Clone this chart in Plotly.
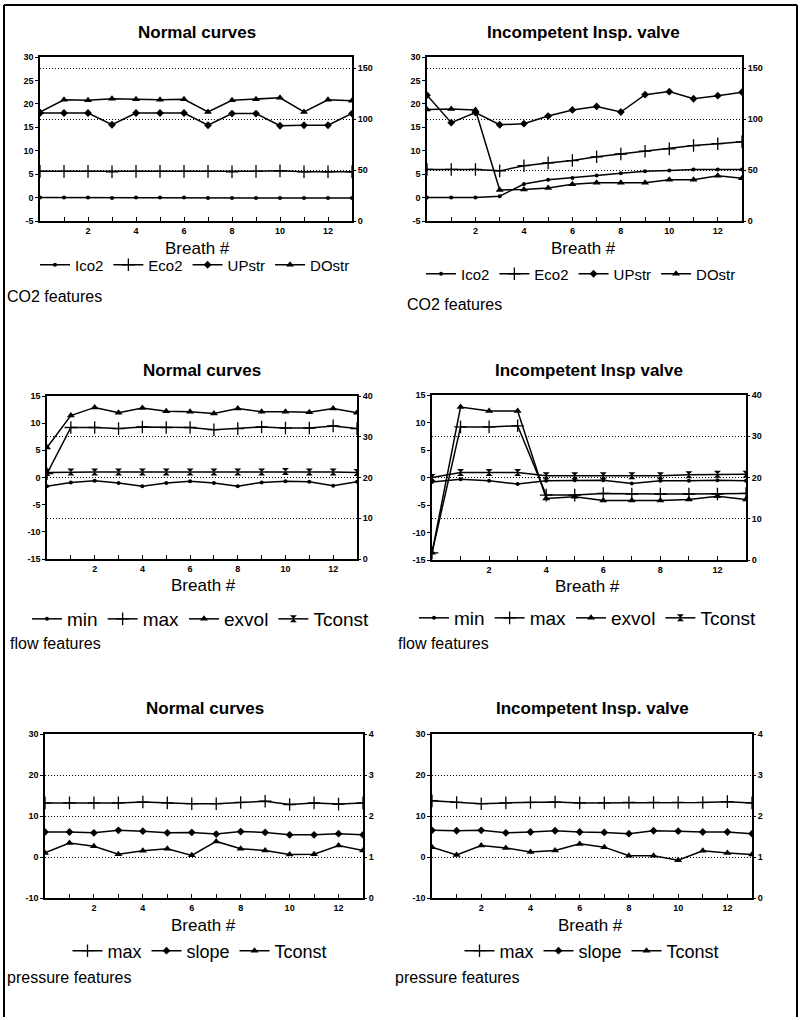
import plotly.graph_objects as go

W, H = 803, 1020

# ---------------- data ----------------
breaths = list(range(14))
breaths_short = list(range(12))

x_ticktext = ["", "", "2", "", "4", "", "6", "", "8", "", "10", "", "12", ""]
x_ticktext_short = ["", "", "2", "", "4", "", "6", "", "8", "", "12", ""]

co2_left_ticks = [-5, 0, 5, 10, 15, 20, 25, 30]
co2_right_ticks = [0, 50, 100, 150]
flow_left_ticks = [-15, -10, -5, 0, 5, 10, 15]
flow_right_ticks = [0, 10, 20, 30, 40]
pres_left_ticks = [-10, 0, 10, 20, 30]
pres_right_ticks = [0, 1, 2, 3, 4]

# CO2 features - normal curves
co2n_ico2 = [0.0, 0.0, 0.0, -0.1, 0.0, 0.0, 0.0, -0.1, -0.1, -0.1, -0.1, -0.1, -0.1, -0.1]
co2n_eco2 = [5.6, 5.6, 5.6, 5.5, 5.6, 5.6, 5.6, 5.6, 5.5, 5.6, 5.7, 5.5, 5.5, 5.5]
co2n_upstr = [106, 106, 106, 94.5, 106, 106, 106, 94, 105.5, 105.5, 93.5, 94, 94, 105.5]
co2n_dostr = [107, 119, 118.5, 120, 119.5, 119, 119.5, 107, 118.5, 119.5, 121, 107, 119, 118]

# CO2 features - incompetent insp. valve
co2i_ico2 = [0.0, 0.0, 0.0, 0.3, 2.9, 3.8, 4.2, 4.7, 5.2, 5.6, 5.8, 6.0, 6.0, 6.0]
co2i_eco2 = [6.0, 6.0, 6.0, 5.7, 6.8, 7.4, 7.9, 8.7, 9.3, 9.9, 10.4, 11.1, 11.5, 11.9]
co2i_upstr = [123.5, 96.5, 106.5, 94.5, 95.5, 103, 109, 112.5, 107, 124, 127, 120, 123, 126.5]
co2i_dostr = [109.5, 110, 109, 30.5, 31, 32.5, 36, 37.5, 37.5, 37.5, 40.5, 40.5, 44.5, 42]

# flow features - normal curves
flown_min = [-1.6, -0.9, -0.6, -1.0, -1.6, -1.0, -0.7, -1.0, -1.6, -0.9, -0.7, -0.8, -1.5, -0.8]
flown_max = [0.7, 9.2, 9.2, 9.0, 9.3, 9.2, 9.2, 8.8, 9.0, 9.3, 9.1, 9.1, 9.5, 9.0]
flown_exvol = [5.5, 11.4, 12.9, 11.9, 12.8, 12.2, 12.1, 11.8, 12.7, 12.1, 12.1, 12.0, 12.7, 11.9]
flown_tconst = [0.9, 1.0, 1.0, 1.0, 1.0, 1.0, 1.0, 1.0, 1.0, 1.0, 1.1, 1.0, 1.0, 0.9]

# flow features - incompetent insp valve
flowi_min = [-0.8, -0.3, -0.6, -1.2, -0.6, -0.5, -0.5, -1.1, -0.6, -0.6, -0.5, -0.6]
flowi_max = [-13.7, 9.2, 9.2, 9.4, -3.2, -3.2, -2.9, -3.0, -3.0, -3.0, -3.0, -2.9]
flowi_exvol = [-13.7, 12.8, 12.1, 12.1, -3.8, -3.5, -4.2, -4.2, -4.2, -4.0, -3.4, -4.0]
flowi_tconst = [0.0, 0.9, 0.9, 0.9, 0.3, 0.3, 0.3, 0.3, 0.3, 0.5, 0.6, 0.6]

# pressure features - normal curves
presn_max = [13.2, 13.2, 13.2, 13.2, 13.4, 13.2, 13.0, 13.0, 13.3, 13.6, 12.8, 13.2, 12.9, 13.2]
presn_slope = [6.1, 6.1, 5.9, 6.5, 6.3, 5.9, 6.0, 5.6, 6.2, 6.0, 5.4, 5.4, 5.7, 5.4]
presn_tconst = [1.0, 3.4, 2.6, 0.7, 1.5, 2.0, 0.4, 3.8, 2.0, 1.6, 0.6, 0.7, 2.8, 1.6]

# pressure features - incompetent insp. valve
presi_max = [13.7, 13.3, 13.0, 13.2, 13.3, 13.4, 13.2, 13.2, 13.3, 13.3, 13.3, 13.3, 13.5, 13.2]
presi_slope = [6.5, 6.4, 6.5, 5.9, 6.1, 6.4, 6.1, 6.0, 5.7, 6.4, 6.3, 6.1, 6.1, 5.7]
presi_tconst = [2.4, 0.5, 2.8, 2.2, 1.2, 1.6, 3.2, 2.4, 0.3, 0.3, -0.8, 1.5, 1.0, 0.6]

titles = ["Normal curves", "Incompetent Insp. valve",
          "Normal curves", "Incompetent Insp valve",
          "Normal curves", "Incompetent Insp. valve"]
feature_labels = ["CO2 features", "CO2 features", "flow features",
                  "flow features", "pressure features", "pressure features"]
x_title = "Breath #"

# ---------------- layout helpers ----------------
def fx(px):
    return px / W

def fy(py):
    return 1 - py / H

FONT = "Liberation Sans"
BLACK = "black"

# panel boxes (left, right, top, bottom) in px
boxes = [(40, 352, 57, 221), (427, 742, 57, 221),
         (47, 357, 396, 559), (432, 746, 395, 560),
         (45, 363, 734, 898), (432, 752, 734, 898)]
title_pos = [(197, 33), (583, 32), (202, 370), (589, 370), (205, 708), (592, 708)]
xtitle_pos = [(197, 248), (583, 248), (203, 585), (587, 586), (203, 925), (590, 925)]
legend_pos = [(195, 265, 15), (581, 274, 15), (201, 619, 19), (588, 618, 19),
              (200, 951, 18), (592, 951, 18)]
feature_pos = [(5, 296), (405, 304), (8, 643), (396, 643), (5, 977), (393, 977)]

ranges = [
    dict(x=[0, 13], xt=x_ticktext, yl=[-5, 30], ylt=co2_left_ticks, yr=[0, 161], yrt=co2_right_ticks),
    dict(x=[0, 13], xt=x_ticktext, yl=[-5, 30], ylt=co2_left_ticks, yr=[0, 161], yrt=co2_right_ticks),
    dict(x=[0, 13], xt=x_ticktext, yl=[-15, 15], ylt=flow_left_ticks, yr=[0, 40], yrt=flow_right_ticks),
    dict(x=[0, 11], xt=x_ticktext_short, yl=[-15, 15], ylt=flow_left_ticks, yr=[0, 40], yrt=flow_right_ticks),
    dict(x=[0, 13], xt=x_ticktext, yl=[-10, 30], ylt=pres_left_ticks, yr=[0, 4], yrt=pres_right_ticks),
    dict(x=[0, 13], xt=x_ticktext, yl=[-10, 30], ylt=pres_left_ticks, yr=[0, 4], yrt=pres_right_ticks),
]

M_DOT = dict(symbol="circle", size=4)
M_PLUS = dict(symbol="cross-thin", size=9, line=dict(width=1.3, color=BLACK))
M_DIAM = dict(symbol="diamond", size=6)
M_TRI = dict(symbol="triangle-up", size=7)
M_HOUR = dict(symbol="hourglass", size=7)

series = [
    [("Ico2", breaths, co2n_ico2, M_DOT, "L"), ("Eco2", breaths, co2n_eco2, M_PLUS, "L"),
     ("UPstr", breaths, co2n_upstr, M_DIAM, "R"), ("DOstr", breaths, co2n_dostr, M_TRI, "R")],
    [("Ico2", breaths, co2i_ico2, M_DOT, "L"), ("Eco2", breaths, co2i_eco2, M_PLUS, "L"),
     ("UPstr", breaths, co2i_upstr, M_DIAM, "R"), ("DOstr", breaths, co2i_dostr, M_TRI, "R")],
    [("min", breaths, flown_min, M_DOT, "L"), ("max", breaths, flown_max, M_PLUS, "L"),
     ("exvol", breaths, flown_exvol, M_TRI, "L"), ("Tconst", breaths, flown_tconst, M_HOUR, "L")],
    [("min", breaths_short, flowi_min, M_DOT, "L"), ("max", breaths_short, flowi_max, M_PLUS, "L"),
     ("exvol", breaths_short, flowi_exvol, M_TRI, "L"), ("Tconst", breaths_short, flowi_tconst, M_HOUR, "L")],
    [("max", breaths, presn_max, M_PLUS, "L"), ("slope", breaths, presn_slope, M_DIAM, "L"),
     ("Tconst", breaths, presn_tconst, M_TRI, "L")],
    [("max", breaths, presi_max, M_PLUS, "L"), ("slope", breaths, presi_slope, M_DIAM, "L"),
     ("Tconst", breaths, presi_tconst, M_TRI, "L")],
]

fig = go.Figure()
layout = dict(width=W, height=H, margin=dict(l=0, r=0, t=0, b=0), autosize=False,
              template="none", paper_bgcolor="white", plot_bgcolor="white",
              font=dict(family=FONT, color=BLACK), annotations=[], shapes=[])

tickfont = dict(family=FONT, size=9, color=BLACK, weight="bold")
GRID_DASH = "1px,2px"

for i in range(6):
    n = i + 1
    sfx = "" if n == 1 else str(n)
    rn = n + 6
    l, r, t, b = boxes[i]
    rg = ranges[i]
    xs = list(range(rg["x"][1] + 1))
    layout["xaxis" + sfx] = dict(
        domain=[fx(l), fx(r)], anchor="y" + sfx, range=rg["x"],
        tickmode="array", tickvals=xs, ticktext=rg["xt"],
        ticks="inside", ticklen=4, tickwidth=1, tickcolor=BLACK,
        showline=True, mirror=True, linecolor=BLACK, linewidth=1.5,
        showgrid=False, zeroline=False, tickfont=tickfont, fixedrange=True)
    layout["yaxis" + sfx] = dict(
        domain=[fy(b), fy(t)], anchor="x" + sfx, range=rg["yl"],
        tickmode="array", tickvals=rg["ylt"], ticktext=[str(v) for v in rg["ylt"]],
        ticks="outside", ticklen=3, tickwidth=1, tickcolor=BLACK,
        showline=True, mirror=True, linecolor=BLACK, linewidth=1.5,
        showgrid=False, zeroline=False, tickfont=tickfont, fixedrange=True)
    layout["yaxis" + str(rn)] = dict(
        domain=[fy(b), fy(t)], anchor="x" + sfx, overlaying="y" + sfx, side="right",
        range=rg["yr"], tickmode="array", tickvals=rg["yrt"],
        ticktext=[str(v) for v in rg["yrt"]],
        ticks="outside", ticklen=3, tickwidth=1, tickcolor=BLACK,
        showline=False, showgrid=True, griddash=GRID_DASH, gridcolor=BLACK, gridwidth=1,
        zeroline=False, tickfont=tickfont, fixedrange=True)

    lname = "legend" + sfx
    lx, ly, lsize = legend_pos[i]
    layout[lname] = dict(orientation="h", x=fx(lx), y=fy(ly), xanchor="center", yanchor="middle",
                         font=dict(family=FONT, size=lsize, color=BLACK),
                         bgcolor="rgba(0,0,0,0)", borderwidth=0, itemwidth=30,
                         tracegroupgap=0)

    has_right = False
    for name, xv, yv, mk, side in series[i]:
        if side == "R":
            has_right = True
        fig.add_trace(go.Scatter(
            x=xv, y=yv, name=name, mode="lines+markers",
            line=dict(color=BLACK, width=1.5),
            marker=dict(color=BLACK, **mk),
            xaxis="x" + sfx, yaxis=("y" + sfx) if side == "L" else ("y" + str(rn)),
            legend=lname, showlegend=True, hoverinfo="skip"))
    if not has_right:
        # invisible helper so the right-hand axis (ticks + dotted grid) is rendered
        fig.add_trace(go.Scatter(
            x=[rg["x"][0]], y=[rg["yr"][0]], mode="markers",
            marker=dict(opacity=0, size=1), xaxis="x" + sfx, yaxis="y" + str(rn),
            showlegend=False, hoverinfo="skip"))

    tx, ty = title_pos[i]
    layout["annotations"].append(dict(
        text=titles[i], x=fx(tx), y=fy(ty), xref="paper", yref="paper",
        xanchor="center", yanchor="middle", showarrow=False,
        font=dict(family=FONT, size=17, color=BLACK, weight="bold")))
    bx, by = xtitle_pos[i]
    layout["annotations"].append(dict(
        text=x_title, x=fx(bx), y=fy(by), xref="paper", yref="paper",
        xanchor="center", yanchor="middle", showarrow=False,
        font=dict(family=FONT, size=17, color=BLACK)))
    ffx, ffy = feature_pos[i]
    layout["annotations"].append(dict(
        text=feature_labels[i], x=fx(ffx), y=fy(ffy), xref="paper", yref="paper",
        xanchor="left", yanchor="middle", showarrow=False,
        font=dict(family=FONT, size=16, color=BLACK)))

# page frame
for x0, y0, x1, y1 in [(4, 5, 797, 5), (4, 5, 4, 1017), (797, 5, 797, 1017)]:
    layout["shapes"].append(dict(type="line", xref="paper", yref="paper",
                                 x0=fx(x0), y0=fy(y0), x1=fx(x1), y1=fy(y1),
                                 line=dict(color=BLACK, width=2)))

fig.update_layout(**layout)
fig.write_html("out.html", config={"displayModeBar": False})
